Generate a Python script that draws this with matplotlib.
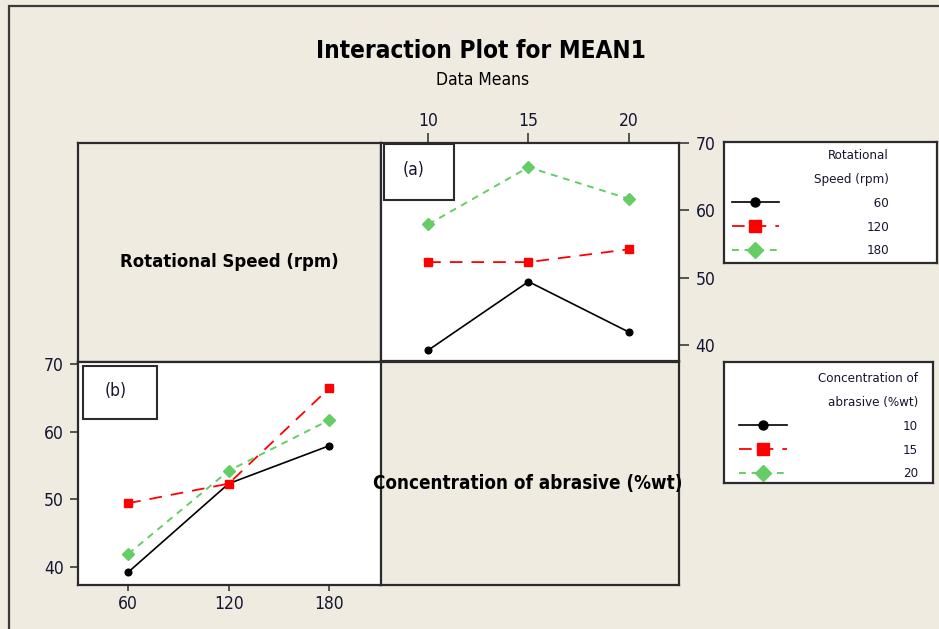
import matplotlib
matplotlib.use("Agg")
import matplotlib.pyplot as plt
from matplotlib.patches import Rectangle

# ---------------- data ----------------
speeds = [60, 120, 180]                 # Rotational Speed (rpm)
concentrations = [10, 15, 20]           # Concentration of abrasive (%wt)
# mean response, one list per rotational speed, values over concentrations
mean_speed_60 = [39.2, 49.4, 41.9]
mean_speed_120 = [52.3, 52.3, 54.2]
mean_speed_180 = [57.9, 66.4, 61.7]
speed_labels = ["60", "120", "180"]
conc_labels = ["10", "15", "20"]
y_ticks = [40, 50, 60, 70]

title = "Interaction Plot for MEAN1"
subtitle = "Data Means"
factor_a = "Rotational Speed (rpm)"
factor_b = "Concentration of abrasive (%wt)"

# ---------------- style ----------------
BG = "#EFEBE1"
EDGE = "#2b2b2b"
TXT = "#151530"
styles = [
    dict(color="black", marker="o", markersize=4.8, linestyle="-", linewidth=1.2),
    dict(color="#FF0000", marker="s", markersize=6, linestyle=(0, (7, 5)), linewidth=1.3),
    dict(color="#66CC66", marker="D", markersize=6, linestyle=(0, (3.5, 3)), linewidth=1.4),
]
FAM = "DejaVu Sans"
COND = "condensed"

W, H = 939, 629
fig = plt.figure(figsize=(W / 100, H / 100), dpi=100, facecolor=BG)


def fr(x0, y0, x1, y1):
    """pixel box -> figure fraction [left, bottom, width, height]"""
    return [x0 / W, 1 - y1 / H, (x1 - x0) / W, (y1 - y0) / H]


# outer frame
fig.patches.append(Rectangle((9 / W, -0.05), 1.2, 1 - 6 / H + 0.05, transform=fig.transFigure,
                             fill=False, edgecolor="#3a3a3a", linewidth=1.6))

# titles
fig.text(481 / W, 1 - 51 / H, title, ha="center", va="center", fontsize=17.5,
         fontweight="bold", family=FAM, fontstretch=COND)
fig.text(483 / W, 1 - 80 / H, subtitle, ha="center", va="center", fontsize=12.5,
         family=FAM, fontstretch=COND)

# ---- empty diagonal panels ----
for box, label, cx, cy, fsz in [((78, 143, 381, 362), factor_a, 229, 262, 13.2),
                                ((380, 362, 679, 585), factor_b, 528, 483, 13.5)]:
    axe = fig.add_axes(fr(*box), facecolor=BG)
    axe.set_xticks([]); axe.set_yticks([])
    for s in axe.spines.values():
        s.set_color(EDGE); s.set_linewidth(1.6)
    fig.text(cx / W, 1 - cy / H, label, ha="center", va="center", fontsize=fsz,
             fontweight="bold", family=FAM, fontstretch=COND, zorder=5)


def style_axes(ax):
    ax.set_facecolor("white")
    for s in ax.spines.values():
        s.set_color(EDGE); s.set_linewidth(1.6)
    ax.tick_params(direction="out", width=1.1, color=EDGE, labelsize=12.5,
                   labelcolor=TXT)
    for t in ax.get_xticklabels() + ax.get_yticklabels():
        t.set_family(FAM); t.set_stretch(COND)


means = [mean_speed_60, mean_speed_120, mean_speed_180]

# ---- panel (a): x = concentration, lines = speed ----
ax_a = fig.add_axes(fr(381, 143, 679, 361))
lines_a = []
for vals, st in zip(means, styles):
    ln, = ax_a.plot(concentrations, vals, **st)
    lines_a.append(ln)
ax_a.set_xlim(7.65, 22.5)
ax_a.set_ylim(37.6, 70.0)
ax_a.xaxis.tick_top()
ax_a.yaxis.tick_right()
ax_a.set_xticks(concentrations, conc_labels)
ax_a.set_yticks(y_ticks)
style_axes(ax_a)
ax_a.tick_params(axis="x", length=7, pad=2)
ax_a.tick_params(axis="y", length=7, pad=5)
ax_a.add_patch(Rectangle((0.01, 0.737), 0.236, 0.258, transform=ax_a.transAxes,
                         fill=False, edgecolor=EDGE, linewidth=1.5, zorder=4))
ax_a.text(0.108, 0.876, "(a)", transform=ax_a.transAxes, ha="center", va="center",
          fontsize=12.5, family=FAM, fontstretch=COND, color=TXT)

# ---- panel (b): x = speed, lines = concentration ----
ax_b = fig.add_axes(fr(78, 362, 381, 585))
lines_b = []
for j, st in enumerate(styles):
    vals = [m[j] for m in means]
    ln, = ax_b.plot(speeds, vals, **st)
    lines_b.append(ln)
ax_b.set_xlim(30, 211)
ax_b.set_ylim(37.3, 70.3)
ax_b.set_xticks(speeds, speed_labels)
ax_b.set_yticks(y_ticks)
style_axes(ax_b)
ax_b.tick_params(axis="x", length=4.5, pad=3)
ax_b.tick_params(axis="y", length=6, pad=4)
ax_b.add_patch(Rectangle((0.017, 0.743), 0.245, 0.239, transform=ax_b.transAxes,
                         fill=False, edgecolor=EDGE, linewidth=1.5, zorder=4))
ax_b.text(0.123, 0.869, "(b)", transform=ax_b.transAxes, ha="center", va="center",
          fontsize=12.5, family=FAM, fontstretch=COND, color=TXT)

# ---- legends ----
FS = "\u2007"


def make_legend(box, handles, labels, ttl, right_px, top_px, textpad):
    lax = fig.add_axes(fr(*box), facecolor="white")
    lax.set_xticks([]); lax.set_yticks([])
    for s in lax.spines.values():
        s.set_color(EDGE); s.set_linewidth(1.6)
    width = max(len(l) for l in labels)
    labs = [FS * (width - len(l)) + l for l in labels]
    x0, y0, x1, y1 = box
    leg = lax.legend(handles, labs, title=ttl, loc="upper right",
                     bbox_to_anchor=((right_px - x0) / (x1 - x0), (y1 - top_px) / (y1 - y0)),
                     frameon=False, borderpad=0, borderaxespad=0, alignment="right",
                     handlelength=3.6, handletextpad=textpad, labelspacing=0.82,
                     markerscale=1.35,
                     prop=dict(family=FAM, stretch=COND, size=9.5),
                     title_fontproperties=dict(family=FAM, stretch=COND, size=9.5))
    for t in leg.get_texts():
        t.set_color(TXT)
    tt = leg.get_title()
    tt.set_multialignment("right")
    tt.set_linespacing(2.1)
    tt.set_color(TXT)
    return leg


make_legend((724, 142, 937, 263), lines_a, speed_labels, "Rotational\nSpeed (rpm)", 889, 149, 6.6)
make_legend((724, 362, 933, 483), lines_b, conc_labels, "Concentration of\nabrasive (%wt)", 918, 372, 8.8)

fig.savefig("out.png", dpi=100, facecolor=BG)
